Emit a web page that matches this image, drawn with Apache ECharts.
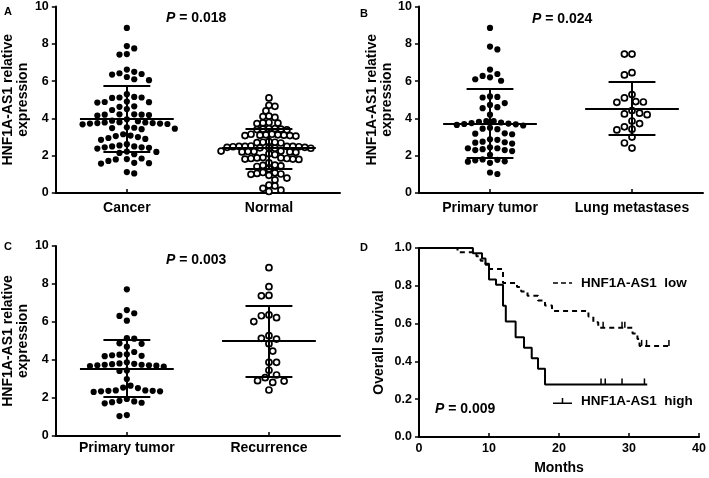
<!DOCTYPE html>
<html><head><meta charset="utf-8">
<script src="https://cdn.jsdelivr.net/npm/echarts@6/dist/echarts.min.js"></script>
<style>html,body{margin:0;padding:0;background:#fff}#c{width:709px;height:478px}</style>
</head><body><div id="c"></div>
<script>
// ---------- data ----------
const catA = ['Cancer', 'Normal'];
const catB = ['Primary tumor', 'Lung metastases'];
const catC = ['Primary tumor', 'Recurrence'];

const cancer = [8.85, 7.88, 7.75, 7.45, 7.42, 6.62, 6.5, 6.42, 6.38, 6.35, 6.22, 6.05, 6.1, 5.3, 5.12, 5.1, 5.12, 5.15,
  4.88, 4.85, 4.9, 4.87, 4.65, 4.62, 4.5, 4.45, 4.22, 4.2, 4.2, 4.18, 4.22, 4.15, 3.95, 3.88, 3.78, 3.75, 3.72, 3.7,
  3.78, 3.68, 3.72, 3.75, 3.8, 3.85, 3.52, 3.48, 3.45, 3.42, 3.5, 3.15, 3.05, 3.0, 3.08, 2.95, 2.9, 2.85, 2.62, 2.55,
  2.5, 2.45, 2.42, 2.45, 2.5, 2.38, 2.22, 2.2, 2.15, 2.08, 1.85, 1.8, 1.72, 1.62, 1.58, 1.6, 1.82, 1.12, 1.05];
const normal = [5.1, 4.7, 4.65, 4.4, 4.12, 4.05, 4.1, 3.78, 3.75, 3.72, 3.76, 3.45, 3.42, 3.4, 3.38, 3.42, 3.45, 3.15,
  3.12, 3.08, 3.1, 3.05, 3.1, 3.12, 3.08, 3.15, 2.75, 2.72, 2.7, 2.68, 2.72, 2.5, 2.5, 2.48, 2.45, 2.42, 2.4, 2.4, 2.42,
  2.45, 2.48, 2.5, 2.5, 2.52, 2.25, 2.22, 2.2, 2.18, 2.22, 2.25, 2.2, 2.1, 2.05, 1.88, 1.85, 1.82, 1.8, 1.85, 1.88, 1.82,
  1.9, 1.62, 1.5, 1.48, 1.45, 1.42, 1.3, 1.1, 1.05, 1.0, 1.02, 1.08, 0.95, 0.8, 0.7, 0.42, 0.38, 0.25, 0.15, 0.08];
const primaryB = [8.85, 7.85, 7.7, 6.62, 6.38, 6.28, 6.2, 6.1, 6.02, 5.15, 5.12, 5.18, 4.82, 4.72, 4.6, 4.55, 4.2, 3.85,
  3.78, 3.72, 3.7, 3.65, 3.62, 3.68, 3.75, 3.82, 3.85, 3.5, 3.45, 3.42, 3.2, 3.15, 3.18, 2.88, 2.75, 2.7, 2.65, 2.72,
  2.85, 2.45, 2.4, 2.35, 2.3, 2.25, 2.3, 2.4, 2.05, 1.8, 1.75, 1.7, 1.62, 1.68, 1.78, 1.1, 1.02];
const lung = [7.45, 7.45, 6.45, 6.33, 5.28, 5.1, 4.88, 4.86, 4.9, 4.42, 4.28, 4.24, 4.2, 3.86, 3.72, 3.55, 3.42, 3.38,
  3.0, 2.68, 2.41];
const primaryC = [7.72, 6.63, 6.46, 6.32, 6.07, 5.15, 5.12, 4.88, 4.85, 4.7, 4.42, 4.28, 4.25, 4.3, 4.22, 4.2, 3.88,
  3.82, 3.75, 3.72, 3.7, 3.68, 3.72, 3.75, 3.78, 3.8, 3.65, 3.45, 3.42, 3.0, 2.65, 2.55, 2.52, 2.4, 2.35, 2.38, 2.32,
  2.4, 2.35, 2.38, 1.95, 1.85, 1.78, 1.72, 1.75, 1.82, 1.1, 1.05];
const recurrence = [8.86, 7.86, 7.4, 7.38, 6.37, 6.33, 6.23, 6.02, 5.28, 5.14, 5.1, 4.86, 4.47, 3.88, 3.88, 3.46,
  3.21, 3.07, 2.91, 2.89, 2.82, 2.42];

const meanA = [3.98, 2.41], sdHiA = [5.73, 3.47], sdLoA = [2.2, 1.28];
const meanB = [3.72, 4.54], sdHiB = [5.59, 5.97], sdLoB = [1.88, 3.12];
const meanC = [3.54, 5.0], sdHiC = [5.09, 6.86], sdLoC = [2.04, 3.12];

const pA = '0.018', pB = '0.024', pC = '0.003', pD = '0.009';

// Kaplan-Meier
const kmLowName = 'HNF1A-AS1  low', kmHighName = 'HNF1A-AS1  high';
const kmHighT = [0, 7.7, 9.0, 9.5, 10.0, 11.0, 12.0, 12.4, 13.8, 15.0, 16.1, 17.0, 18.0, 32.6];
const kmHighS = [1.0, 0.972, 0.944, 0.917, 0.833, 0.806, 0.694, 0.611, 0.528, 0.472, 0.417, 0.361, 0.278, 0.278];
const kmHighCensor = [26.0, 26.6, 29.0, 32.2];
const kmLowT = [0, 5.5, 8.2, 8.8, 9.5, 10.0, 12.0, 14.0, 14.6, 15.5, 17.0, 18.0, 19.0, 24.2, 24.9, 25.6, 30.5, 31.2, 31.5, 35.7];
const kmLowS = [1.0, 0.978, 0.956, 0.933, 0.911, 0.889, 0.815, 0.793, 0.770, 0.748, 0.722, 0.696, 0.667, 0.637, 0.607, 0.578, 0.548, 0.519, 0.482, 0.482];
const kmLowCensor = [26.3, 29.0, 29.4, 31.8, 32.5, 35.7];

// ---------- helpers ----------
const FONT = 'Arial, "Liberation Sans", Helvetica, sans-serif';
const BLACK = '#000';
const X_UNIT_PX = 71.25;   // pixels per hidden x unit

// collision-based beeswarm layout (pixel space), converted back to axis units
function swarm(vals, center, yPx, dist) {
  const s = vals.slice().sort((a, b) => b - a);
  const placed = [];
  const half = dist / 2;
  let flip = 1;
  s.forEach(v => {
    const y = v * yPx;
    let chosen = 0;
    for (let k = 0; k < 60; k++) {
      const cands = k === 0 ? [0] : [flip * k * half, -flip * k * half];
      let ok = null;
      for (const x of cands) {
        if (placed.every(p => (p[0] - x) ** 2 + (p[1] - y) ** 2 >= dist * dist - 0.01)) { ok = x; break; }
      }
      if (ok !== null) { chosen = ok; break; }
    }
    flip = -flip;
    placed.push([chosen, y, v]);
  });
  return placed.map(p => [center + p[0] / X_UNIT_PX, p[2]]);
}
function stepAt(T, S, t) { let s = S[0]; for (let i = 0; i < T.length; i++) if (T[i] <= t) s = S[i]; return s; }

function catAxis(g, cats, margin) {
  return {
    gridIndex: g, type: 'category', data: cats, boundaryGap: true, position: 'bottom',
    axisLine: { show: true, lineStyle: { color: BLACK, width: 2 } },
    axisTick: { show: true, alignWithLabel: true, inside: true, length: 4, lineStyle: { color: BLACK, width: 1.5 } },
    axisLabel: { color: BLACK, fontWeight: 'bold', fontSize: 14, fontFamily: FONT, margin: margin, interval: 0 },
    splitLine: { show: false }
  };
}
function hiddenX(g) { return { gridIndex: g, type: 'value', min: 0, max: 4, show: false }; }
function dotY(g) {
  return {
    gridIndex: g, type: 'value', min: 0, max: 10, interval: 2,
    name: 'HNF1A-AS1 relative\nexpression', nameLocation: 'middle', nameGap: 21, nameRotate: 90,
    nameTextStyle: { color: BLACK, fontWeight: 'bold', fontSize: 14, fontFamily: FONT, lineHeight: 15 },
    axisLine: { show: true, lineStyle: { color: BLACK, width: 2 } },
    axisTick: { show: true, length: 4, lineStyle: { color: BLACK, width: 1.5 } },
    axisLabel: { color: BLACK, fontWeight: 'bold', fontSize: 12.5, fontFamily: FONT, margin: 7 },
    splitLine: { show: false }
  };
}
function statLines(i, mean, hi, lo) {
  const c = 1 + 2 * i, mw = 0.66, sw = 0.33;
  return {
    silent: true, symbol: ['none', 'none'], label: { show: false },
    lineStyle: { color: BLACK, width: 2, type: 'solid', opacity: 1 },
    emphasis: { disabled: true },
    data: [
      [{ coord: [c - mw, mean[i]] }, { coord: [c + mw, mean[i]] }],
      [{ coord: [c - sw, hi[i]] }, { coord: [c + sw, hi[i]] }],
      [{ coord: [c - sw, lo[i]] }, { coord: [c + sw, lo[i]] }],
      [{ coord: [c, lo[i]] }, { coord: [c, hi[i]] }]
    ]
  };
}
function dots(g, vals, i, filled, mean, hi, lo, yPx, dist) {
  return {
    type: 'scatter', xAxisIndex: 2 * g + 1, yAxisIndex: g, z: 3,
    data: swarm(vals, 1 + 2 * i, yPx, dist), symbol: 'circle', symbolSize: filled ? 6.2 : 6,
    itemStyle: filled ? { color: BLACK, opacity: 1 } : { color: '#fff', borderColor: BLACK, borderWidth: 1.7, opacity: 1 },
    markLine: statLines(i, mean, hi, lo), silent: true
  };
}
function pText(x, y, p) {
  return {
    type: 'text', left: x, top: y,
    style: {
      text: '{i|P} = ' + p, fill: BLACK, font: 'bold 14px ' + FONT,
      rich: { i: { fontStyle: 'italic', fontWeight: 'bold', fontSize: 14, fontFamily: FONT, fill: BLACK } }
    }
  };
}
function letter(x, y, t) {
  return { type: 'text', left: x, top: y, style: { text: t, fill: BLACK, font: 'bold 11px ' + FONT } };
}

const option = {
  animation: false,
  backgroundColor: '#fff',
  grid: [
    { left: 55, top: 5, width: 285, height: 188 },
    { left: 419, top: 5, width: 284, height: 188 },
    { left: 55, top: 246, width: 285, height: 190 },
    { left: 419, top: 248, width: 284, height: 189 }
  ],
  xAxis: [
    catAxis(0, catA, 8), hiddenX(0),
    catAxis(1, catB, 8), hiddenX(1),
    catAxis(2, catC, 5), hiddenX(2),
    {
      gridIndex: 3, type: 'value', min: 0, max: 40, interval: 10,
      name: 'Months', nameLocation: 'middle', nameGap: 24,
      nameTextStyle: { color: BLACK, fontWeight: 'bold', fontSize: 14, fontFamily: FONT },
      axisLine: { show: true, lineStyle: { color: BLACK, width: 2 } },
      axisTick: { show: true, inside: true, length: 4, lineStyle: { color: BLACK, width: 1.5 } },
      axisLabel: { color: BLACK, fontWeight: 'bold', fontSize: 12.5, fontFamily: FONT, margin: 5 },
      splitLine: { show: false }
    }
  ],
  yAxis: [
    dotY(0), dotY(1), dotY(2),
    {
      gridIndex: 3, type: 'value', min: 0, max: 1, interval: 0.2,
      name: 'Overall survival', nameLocation: 'middle', nameGap: 33, nameRotate: 90,
      nameTextStyle: { color: BLACK, fontWeight: 'bold', fontSize: 14, fontFamily: FONT },
      axisLine: { show: true, lineStyle: { color: BLACK, width: 2 } },
      axisTick: { show: true, length: 4, lineStyle: { color: BLACK, width: 1.5 } },
      axisLabel: { color: BLACK, fontWeight: 'bold', fontSize: 12.5, fontFamily: FONT, margin: 7,
        formatter: v => v.toFixed(1) },
      splitLine: { show: false }
    }
  ],
  legend: [
    {
      data: [{ name: kmLowName, icon: 'path://M0,0h5v1.6h-5z M8,0h5v1.6h-5z M16,0h3v1.6h-3z' }],
      left: 553, top: 276, padding: 0, itemWidth: 19, itemHeight: 1.6, itemGap: 0, selectedMode: false,
      textStyle: { color: BLACK, fontWeight: 'bold', fontSize: 13.5, fontFamily: FONT, padding: [0, 0, 0, 4] }
    },
    {
      data: [{ name: kmHighName, icon: 'path://M0,4.5h19v1.5h-19z M8.75,0h1.5v6h-1.5z' }],
      left: 553, top: 394, padding: 0, itemWidth: 19, itemHeight: 6, selectedMode: false,
      textStyle: { color: BLACK, fontWeight: 'bold', fontSize: 13.5, fontFamily: FONT, padding: [0, 0, 0, 4] }
    }
  ],
  graphic: [
    letter(4, 6, 'A'), letter(360, 8, 'B'), letter(4, 241, 'C'), letter(360, 242, 'D'),
    pText(166, 11, pA), pText(532, 12, pB), pText(166, 253, pC), pText(435, 402, pD)
  ],
  series: [
    dots(0, cancer, 0, true, meanA, sdHiA, sdLoA, 18.8, 7.4),
    dots(0, normal, 1, false, meanA, sdHiA, sdLoA, 18.8, 6.0),
    dots(1, primaryB, 0, true, meanB, sdHiB, sdLoB, 18.8, 7.4),
    dots(1, lung, 1, false, meanB, sdHiB, sdLoB, 18.8, 7.6),
    dots(2, primaryC, 0, true, meanC, sdHiC, sdLoC, 19.0, 7.4),
    dots(2, recurrence, 1, false, meanC, sdHiC, sdLoC, 19.0, 7.6),
    {
      name: kmLowName, type: 'line', xAxisIndex: 6, yAxisIndex: 3, step: 'end', symbol: 'none',
      data: kmLowT.map((t, i) => [t, kmLowS[i]]),
      lineStyle: { color: BLACK, width: 2, type: [5, 4] }, itemStyle: { color: BLACK }
    },
    {
      name: kmHighName, type: 'line', xAxisIndex: 6, yAxisIndex: 3, step: 'end', symbol: 'none',
      data: kmHighT.map((t, i) => [t, kmHighS[i]]),
      lineStyle: { color: BLACK, width: 2 }, itemStyle: { color: BLACK }
    },
    {
      name: 'censor', type: 'scatter', xAxisIndex: 6, yAxisIndex: 3, silent: true,
      symbol: 'rect', symbolSize: [1.5, 6], symbolOffset: [0, -3], itemStyle: { color: BLACK, opacity: 1 },
      data: kmHighCensor.map(t => [t, stepAt(kmHighT, kmHighS, t)])
        .concat(kmLowCensor.map(t => [t, stepAt(kmLowT, kmLowS, t)]))
    }
  ]
};
const chart = echarts.init(document.getElementById('c'), null, { renderer: 'canvas' });
chart.setOption(option);
</script></body></html>
